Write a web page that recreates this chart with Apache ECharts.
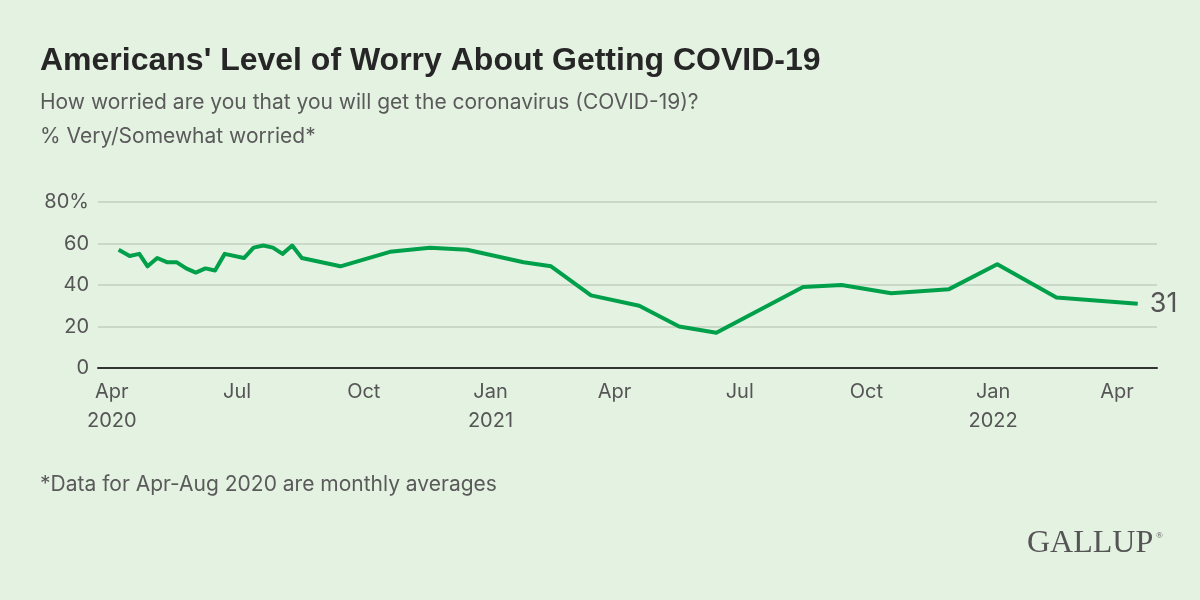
<!DOCTYPE html>
<html><head><meta charset="utf-8">
<script src="https://cdn.jsdelivr.net/npm/echarts@6/dist/echarts.min.js"></script>
<style>html,body{margin:0;padding:0;background:#e4f2e2}#c{width:1200px;height:600px}</style>
</head><body><div id="c"></div>
<script>
// Survey dates and % very/somewhat worried
const dates = ['2020-04-06','2020-04-14','2020-04-21','2020-04-27','2020-05-04','2020-05-11','2020-05-18','2020-05-25','2020-06-01','2020-06-08','2020-06-15','2020-06-22','2020-07-06','2020-07-13','2020-07-20','2020-07-27','2020-08-03','2020-08-10','2020-08-17','2020-09-14','2020-10-20','2020-11-18','2020-12-15','2021-01-25','2021-02-14','2021-03-15','2021-04-19','2021-05-18','2021-06-14','2021-08-16','2021-09-13','2021-10-19','2021-11-30','2022-01-04','2022-02-16','2022-04-16'];
const worried = [57,54,55,49,53,51,51,48,46,48,47,55,53,58,59,58,55,59,53,49,56,58,57,51,49,35,30,20,17,39,40,36,38,50,34,31];
const tickDates = ['2020-04-01','2020-07-01','2020-10-01','2021-01-01','2021-04-01','2021-07-01','2021-10-01','2022-01-01','2022-04-01'];
const tickLabels = ['Apr\n2020','Jul','Oct','Jan\n2021','Apr','Jul','Oct','Jan\n2022','Apr'];
const yTickValues = [0,20,40,60,80];
const yTickLabels = ['0','20','40','60','80%'];
const xRange = ['2020-03-22','2022-04-30'];

// days since 2020-04-01 (UTC, no DST issues)
function day(s){const p=s.split('-').map(Number);return Math.round((Date.UTC(p[0],p[1]-1,p[2])-Date.UTC(2020,3,1))/86400000);}
const labelMap = {}; tickDates.forEach((d,i)=>{labelMap[day(d)]=tickLabels[i];});
const yMap = {}; yTickValues.forEach((v,i)=>{yMap[v]=yTickLabels[i];});

const chart = echarts.init(document.getElementById('c'), null, {renderer:'canvas'});
const F = 'Inter, Roboto, sans-serif';
const FT = '"Liberation Sans", Arial, sans-serif';
chart.setOption({
  backgroundColor:'#e4f2e2',
  animation:false,
  title:[
    {text:"Americans' Level of Worry About Getting COVID-19", left:40, top:43, padding:0,
     textStyle:{fontSize:32, fontWeight:'bold', color:'#262626', fontFamily:FT, lineHeight:36}},
    {text:'How worried are you that you will get the coronavirus (COVID-19)?', left:40, top:91, padding:0,
     textStyle:{fontSize:21, fontWeight:'normal', color:'#5a5a5a', fontFamily:F, lineHeight:24}},
    {text:'% Very/Somewhat worried*', left:40, top:125, padding:0,
     textStyle:{fontSize:21, fontWeight:'normal', color:'#5a5a5a', fontFamily:F, lineHeight:24}},
    {text:'*Data for Apr-Aug 2020 are monthly averages', left:40, top:473, padding:0,
     textStyle:{fontSize:21, fontWeight:'normal', color:'#5a5a5a', fontFamily:F, lineHeight:24}},
    {text:'GALLUP', left:1027, top:526, padding:0,
     textStyle:{fontSize:32, fontWeight:'normal', color:'#555', fontFamily:'"Liberation Serif", serif', lineHeight:36}},
    {text:'®', left:1156, top:531, padding:0,
     textStyle:{fontSize:9, fontWeight:'normal', color:'#555', fontFamily:'"Liberation Serif", serif', lineHeight:10}}
  ],
  grid:{left:98, right:43, top:202, bottom:232, containLabel:false, outerBoundsMode:'none'},
  xAxis:{type:'value', min:day(xRange[0]), max:day(xRange[1]),
    axisLine:{show:true, onZero:false, lineStyle:{color:'#333', width:2}},
    axisTick:{show:false}, splitLine:{show:false},
    axisLabel:{customValues:tickDates.map(day), formatter:v=>labelMap[v]||'', color:'#555',
      fontSize:20, lineHeight:29, margin:9, fontFamily:F, hideOverlap:false}
  },
  yAxis:{type:'value', min:0, max:80, interval:20,
    axisLine:{show:false}, axisTick:{show:false},
    splitLine:{show:true, lineStyle:{color:'#cbd8c7', width:2}},
    axisLabel:{formatter:v=>yMap[v]!==undefined?yMap[v]:'', color:'#555', fontSize:20, margin:9, fontFamily:F}
  },
  series:[{type:'line', data:dates.map((d,i)=>[day(d),worried[i]]), symbol:'none', silent:true,
    lineStyle:{color:'#00a04b', width:4, join:'round'},
    endLabel:{show:true, formatter:p=>String(p.value[1]), color:'#555', fontSize:27, distance:12, fontFamily:F}
  }]
});
</script></body></html>
